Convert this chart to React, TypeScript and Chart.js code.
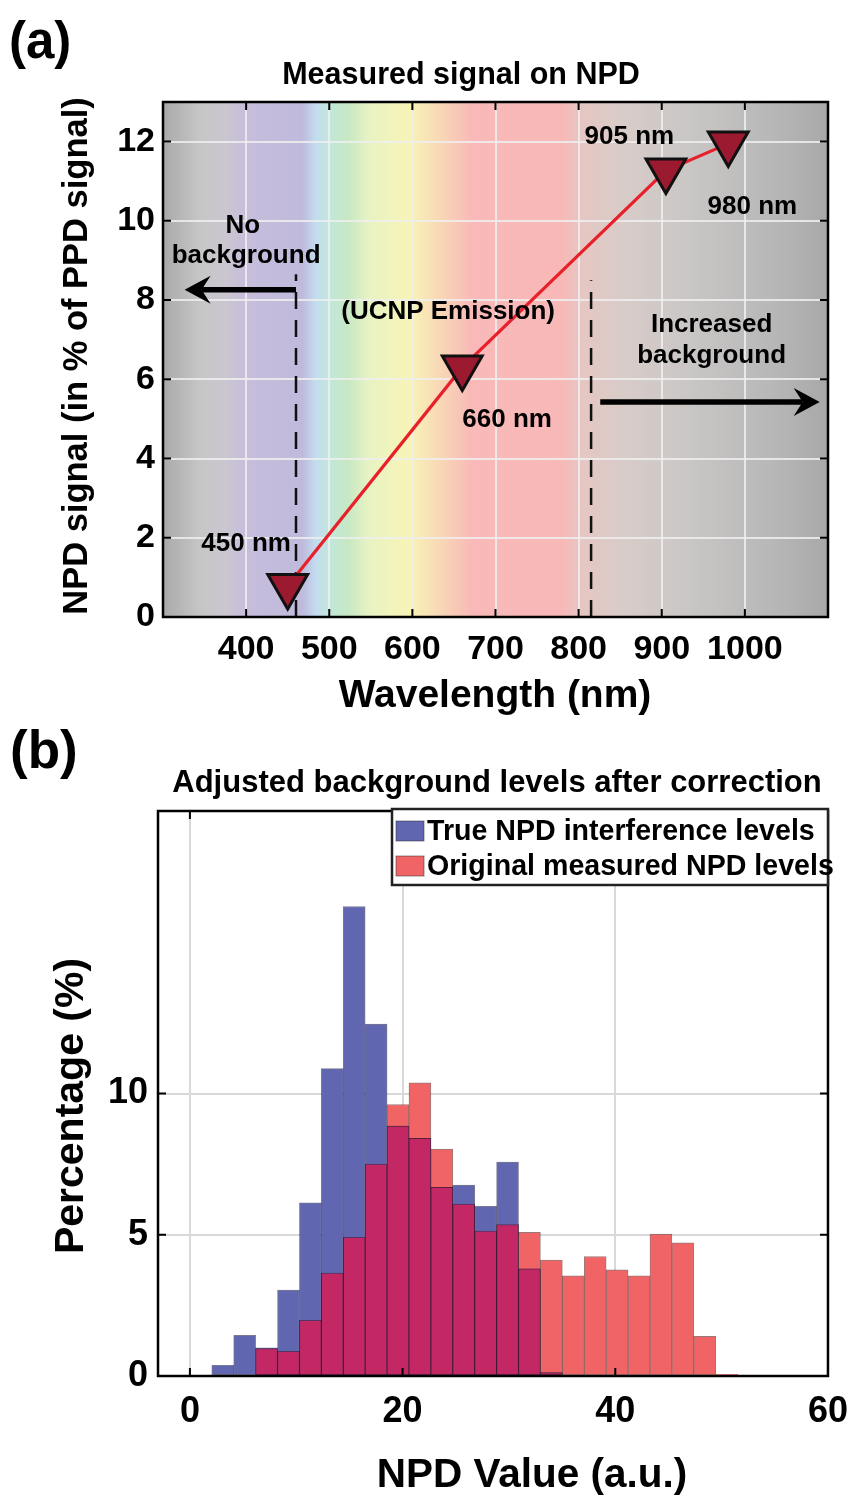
import React, { useEffect, useRef } from 'react';
import { Chart, registerables } from 'chart.js';

Chart.register(...registerables);

const FONT = '"Liberation Sans", Arial, Helvetica, sans-serif';
const font = (size: number) => `bold ${size}px ${FONT}`;

// ---------------- Panel (a) data ----------------
const wavelengthsNm = [450, 660, 905, 980];
const npdSignalPct = [0.78, 6.3, 11.27, 11.95];
const pointLabels = ['450 nm', '660 nm', '905 nm', '980 nm'];
const pointLabelNm = [400, 714, 861, 1009];
const pointLabelPct = [1.84, 4.97, 12.12, 10.35];

const xTicksA = [400, 500, 600, 700, 800, 900, 1000];
const yTicksA = [0, 2, 4, 6, 8, 10, 12];

const cutoffNm = [460, 815];
const cutoffTopPct = [8.65, 8.5];

const noteTexts = ['No', 'background', '(UCNP Emission)', 'Increased', 'background'];
const noteNm = [396, 400, 643, 960, 960];
const notePct = [9.87, 9.12, 7.7, 7.37, 6.59];

const arrowFromNm = [460, 826];
const arrowToNm = [326, 1090];
const arrowPct = [8.26, 5.43];

const spectrumNm = [300, 344, 375, 400, 468, 483, 500, 522, 548, 597, 630, 672, 780, 802, 850, 940, 1040, 1100];
const spectrumColors = [
  '#a9a9a9', '#c6c6c6', '#cbc6d0', '#c7bddb', '#bfbadc', '#c2dbf0', '#c2e7dc', '#c6e8c4',
  '#e8f3c3', '#f8f4b6', '#f8dab6', '#f8b9b8', '#f8b8b8', '#e6c6c2', '#d9ccc8', '#c8c6c5',
  '#b6b6b6', '#a8a8a8',
];

// ---------------- Panel (b) data ----------------
const binCenters = [
  3.09, 5.15, 7.21, 9.27, 11.33, 13.39, 15.45, 17.51, 19.57, 21.63, 23.69, 25.75,
  27.81, 29.87, 31.93, 33.99, 36.05, 38.11, 40.17, 42.23, 44.29, 46.35, 48.41, 50.47,
];
const trueLevels = [
  0.38, 1.44, 1.0, 3.04, 6.13, 10.88, 16.62, 12.46, 8.85, 8.41, 6.68, 6.76,
  6.01, 7.57, 3.79, 0.12, 0, 0, 0, 0, 0, 0, 0, 0,
];
const measuredLevels = [
  0, 0, 0.97, 0.87, 1.97, 3.64, 4.91, 7.5, 9.61, 10.38, 8.03, 6.09,
  5.13, 5.36, 5.09, 4.1, 3.55, 4.23, 3.76, 3.55, 5.02, 4.71, 1.4, 0.06,
];
const xTicksB = [0, 20, 40, 60];
const yTicksB = [0, 5, 10];
const legendLabels = ['True NPD interference levels', 'Original measured NPD levels'];

const BLUE = 'rgb(96,102,176)';
const RED = 'rgb(240,100,102)';
const OVERLAP = 'rgb(196,40,100)';

function drawArrow(ctx: CanvasRenderingContext2D, x0: number, y0: number, x1: number, y1: number) {
  const dir = Math.sign(x1 - x0);
  const L = 26;
  const W = 28;
  const notch = 17;
  ctx.strokeStyle = '#000';
  ctx.lineWidth = 5.5;
  ctx.lineCap = 'butt';
  ctx.beginPath();
  ctx.moveTo(x0, y0);
  ctx.lineTo(x1 - dir * notch, y1);
  ctx.stroke();
  ctx.fillStyle = '#000';
  ctx.beginPath();
  ctx.moveTo(x1, y1);
  ctx.lineTo(x1 - dir * L, y1 - W / 2);
  ctx.lineTo(x1 - dir * notch, y1);
  ctx.lineTo(x1 - dir * L, y1 + W / 2);
  ctx.closePath();
  ctx.fill();
}

function drawBoxAndTicks(chart: any, len: number) {
  const { ctx, chartArea: ca } = chart;
  const x = chart.scales.x;
  const y = chart.scales.y;
  ctx.save();
  ctx.strokeStyle = '#000';
  ctx.lineWidth = 2;
  ctx.beginPath();
  x.ticks.forEach((t: any) => {
    const px = x.getPixelForValue(t.value);
    ctx.moveTo(px, ca.bottom);
    ctx.lineTo(px, ca.bottom - len);
    ctx.moveTo(px, ca.top);
    ctx.lineTo(px, ca.top + len);
  });
  y.ticks.forEach((t: any) => {
    const py = y.getPixelForValue(t.value);
    ctx.moveTo(ca.left, py);
    ctx.lineTo(ca.left + len, py);
    ctx.moveTo(ca.right, py);
    ctx.lineTo(ca.right - len, py);
  });
  ctx.stroke();
  ctx.lineWidth = 2.5;
  ctx.strokeRect(ca.left, ca.top, ca.right - ca.left, ca.bottom - ca.top);
  ctx.restore();
}

const panelAPlugin = {
  id: 'panelA',
  beforeDraw(chart: any) {
    const { ctx, chartArea: ca } = chart;
    const x = chart.scales.x;
    const g = ctx.createLinearGradient(ca.left, 0, ca.right, 0);
    spectrumNm.forEach((nm, i) => {
      const p = (x.getPixelForValue(nm) - ca.left) / (ca.right - ca.left);
      g.addColorStop(Math.min(1, Math.max(0, p)), spectrumColors[i]);
    });
    ctx.save();
    ctx.fillStyle = '#fff';
    ctx.fillRect(0, 0, chart.width, chart.height);
    ctx.fillStyle = g;
    ctx.fillRect(ca.left, ca.top, ca.right - ca.left, ca.bottom - ca.top);
    ctx.restore();
  },
  afterDraw(chart: any) {
    const { ctx } = chart;
    const x = chart.scales.x;
    const y = chart.scales.y;
    ctx.save();
    arrowFromNm.forEach((nm, i) => {
      drawArrow(
        ctx,
        x.getPixelForValue(nm),
        y.getPixelForValue(arrowPct[i]),
        x.getPixelForValue(arrowToNm[i]),
        y.getPixelForValue(arrowPct[i]),
      );
    });
    ctx.fillStyle = '#000';
    ctx.textAlign = 'center';
    ctx.textBaseline = 'middle';
    ctx.font = font(26);
    noteTexts.forEach((t, i) => {
      ctx.fillText(t, x.getPixelForValue(noteNm[i]), y.getPixelForValue(notePct[i]));
    });
    pointLabels.forEach((t, i) => {
      ctx.fillText(t, x.getPixelForValue(pointLabelNm[i]), y.getPixelForValue(pointLabelPct[i]));
    });
    ctx.restore();

    drawBoxAndTicks(chart, 8);

    ctx.save();
    ctx.fillStyle = '#000';
    ctx.textAlign = 'center';
    ctx.textBaseline = 'middle';
    ctx.font = font(30.5);
    ctx.fillText('Measured signal on NPD', 461, 76);
    ctx.font = font(39);
    ctx.fillText('Wavelength (nm)', 495, 696);
    ctx.textAlign = 'left';
    ctx.font = font(51);
    ctx.fillText('(a)', 9, 44);
    ctx.translate(77, 356);
    ctx.rotate(-Math.PI / 2);
    ctx.textAlign = 'center';
    ctx.font = font(34.5);
    ctx.fillText('NPD signal (in % of PPD signal)', 0, 0);
    ctx.restore();
  },
};

const panelBPlugin = {
  id: 'panelB',
  beforeDraw(chart: any) {
    const { ctx } = chart;
    ctx.save();
    ctx.fillStyle = '#fff';
    ctx.fillRect(0, 0, chart.width, chart.height);
    ctx.restore();
  },
  afterDraw(chart: any) {
    const { ctx, chartArea: ca } = chart;
    drawBoxAndTicks(chart, 8);
    ctx.save();
    // legend
    const lx = 392;
    const ly = 89;
    const lw = ca.right - lx;
    const lh = 76;
    ctx.fillStyle = '#fff';
    ctx.fillRect(lx, ly, lw, lh);
    ctx.strokeStyle = '#222';
    ctx.lineWidth = 2.5;
    ctx.strokeRect(lx, ly, lw, lh);
    const colors = [BLUE, RED];
    ctx.font = font(28.6);
    ctx.textAlign = 'left';
    ctx.textBaseline = 'middle';
    legendLabels.forEach((lab, i) => {
      const cy = ly + 22 + i * 35;
      ctx.fillStyle = colors[i];
      ctx.fillRect(lx + 4, cy - 10, 28, 20);
      ctx.strokeStyle = 'rgba(40,40,40,0.5)';
      ctx.lineWidth = 1;
      ctx.strokeRect(lx + 4, cy - 10, 28, 20);
      ctx.fillStyle = '#000';
      ctx.fillText(lab, lx + 35, cy + 1);
    });
    // titles
    ctx.textAlign = 'center';
    ctx.font = font(31);
    ctx.fillText('Adjusted background levels after correction', 497, 63);
    ctx.font = font(40.5);
    ctx.fillText('NPD Value (a.u.)', 532, 756);
    ctx.textAlign = 'left';
    ctx.font = font(53);
    ctx.fillText('(b)', 10, 33);
    ctx.translate(72, 386);
    ctx.rotate(-Math.PI / 2);
    ctx.textAlign = 'center';
    ctx.font = font(41);
    ctx.fillText('Percentage (%)', 0, 0);
    ctx.restore();
  },
};

const plainTick = (v: any) => String(v);

function PanelA() {
  const ref = useRef<HTMLCanvasElement>(null);
  useEffect(() => {
    const chart = new Chart(ref.current as HTMLCanvasElement, {
      type: 'scatter',
      data: {
        datasets: [
          {
            data: wavelengthsNm.map((w, i) => ({ x: w, y: npdSignalPct[i] })),
            showLine: true,
            borderColor: '#e8202a',
            borderWidth: 3.2,
            pointStyle: 'triangle',
            pointRotation: 180,
            pointRadius: 23,
            pointHoverRadius: 23,
            pointBackgroundColor: '#9c1a30',
            pointBorderColor: '#111',
            pointBorderWidth: 3,
          },
          ...cutoffNm.map((nm, i) => ({
            data: [
              { x: nm, y: 0 },
              { x: nm, y: cutoffTopPct[i] },
            ],
            showLine: true,
            borderColor: '#111',
            borderWidth: 2.5,
            borderDash: [17, 11],
            pointRadius: 0,
            pointHoverRadius: 0,
          })),
        ],
      } as any,
      options: {
        responsive: false,
        animation: false,
        events: [],
        layout: { padding: { left: 0, top: 102, right: 34, bottom: 0 } },
        plugins: { legend: { display: false }, tooltip: { enabled: false } },
        scales: {
          x: {
            type: 'linear',
            min: 300,
            max: 1100,
            afterBuildTicks: (s: any) => {
              s.ticks = xTicksA.map((v) => ({ value: v }));
            },
            afterFit: (s: any) => {
              s.height = 103;
            },
            border: { display: false },
            grid: { color: 'rgba(238,238,238,0.85)', lineWidth: 2, drawTicks: false },
            ticks: { color: '#000', padding: 12, maxRotation: 0, callback: plainTick, font: { family: FONT, size: 34, weight: 'bold' } },
          },
          y: {
            type: 'linear',
            min: 0,
            max: 13,
            afterBuildTicks: (s: any) => {
              s.ticks = yTicksA.map((v) => ({ value: v }));
            },
            afterFit: (s: any) => {
              s.width = 163;
            },
            border: { display: false },
            grid: { color: 'rgba(238,238,238,0.85)', lineWidth: 2, drawTicks: false },
            ticks: { color: '#000', padding: 8, callback: plainTick, font: { family: FONT, size: 34, weight: 'bold' } },
          },
        },
      } as any,
      plugins: [panelAPlugin],
    });
    return () => chart.destroy();
  }, []);
  return <canvas ref={ref} width={862} height={720} style={{ display: 'block', width: 862, height: 720 }} />;
}

function PanelB() {
  const ref = useRef<HTMLCanvasElement>(null);
  useEffect(() => {
    const overlap = binCenters.map((c, i) => ({ x: c, y: Math.min(trueLevels[i], measuredLevels[i]) }));
    const chart = new Chart(ref.current as HTMLCanvasElement, {
      type: 'bar',
      data: {
        datasets: [
          {
            label: 'overlap',
            data: overlap.filter((p) => p.y > 0),
            backgroundColor: OVERLAP,
            borderColor: 'rgba(70,10,40,0.55)',
            borderWidth: 1,
          },
          {
            label: legendLabels[0],
            data: binCenters.map((c, i) => ({ x: c, y: trueLevels[i] })).filter((p) => p.y > 0),
            backgroundColor: BLUE,
            borderColor: 'rgba(30,30,70,0.6)',
            borderWidth: 1,
          },
          {
            label: legendLabels[1],
            data: binCenters.map((c, i) => ({ x: c, y: measuredLevels[i] })).filter((p) => p.y > 0),
            backgroundColor: RED,
            borderColor: 'rgba(90,30,30,0.6)',
            borderWidth: 1,
          },
        ],
      } as any,
      options: {
        responsive: false,
        animation: false,
        events: [],
        datasets: { bar: { grouped: false, barPercentage: 1, categoryPercentage: 1, borderSkipped: false } },
        layout: { padding: { left: 0, top: 91, right: 25, bottom: 0 } },
        plugins: { legend: { display: false }, tooltip: { enabled: false } },
        scales: {
          x: {
            type: 'linear',
            min: -3,
            max: 60,
            offset: false,
            afterBuildTicks: (s: any) => {
              s.ticks = xTicksB.map((v) => ({ value: v }));
            },
            afterFit: (s: any) => {
              s.height = 119;
            },
            border: { display: false },
            grid: { color: '#d9d9d9', lineWidth: 2, drawTicks: false, offset: false },
            ticks: { color: '#000', padding: 14, maxRotation: 0, callback: plainTick, font: { family: FONT, size: 36, weight: 'bold' } },
          },
          y: {
            type: 'linear',
            min: 0,
            max: 20,
            afterBuildTicks: (s: any) => {
              s.ticks = yTicksB.map((v) => ({ value: v }));
            },
            afterFit: (s: any) => {
              s.width = 158;
            },
            border: { display: false },
            grid: { color: '#d9d9d9', lineWidth: 2, drawTicks: false },
            ticks: { color: '#000', padding: 10, callback: plainTick, font: { family: FONT, size: 36, weight: 'bold' } },
          },
        },
      } as any,
      plugins: [panelBPlugin],
    });
    return () => chart.destroy();
  }, []);
  return <canvas ref={ref} width={862} height={775} style={{ display: 'block', width: 862, height: 775 }} />;
}

export default function App() {
  return (
    <div style={{ position: 'absolute', left: 0, top: 0, width: 862, height: 1495, background: '#fff' }}>
      <PanelA />
      <PanelB />
    </div>
  );
}
